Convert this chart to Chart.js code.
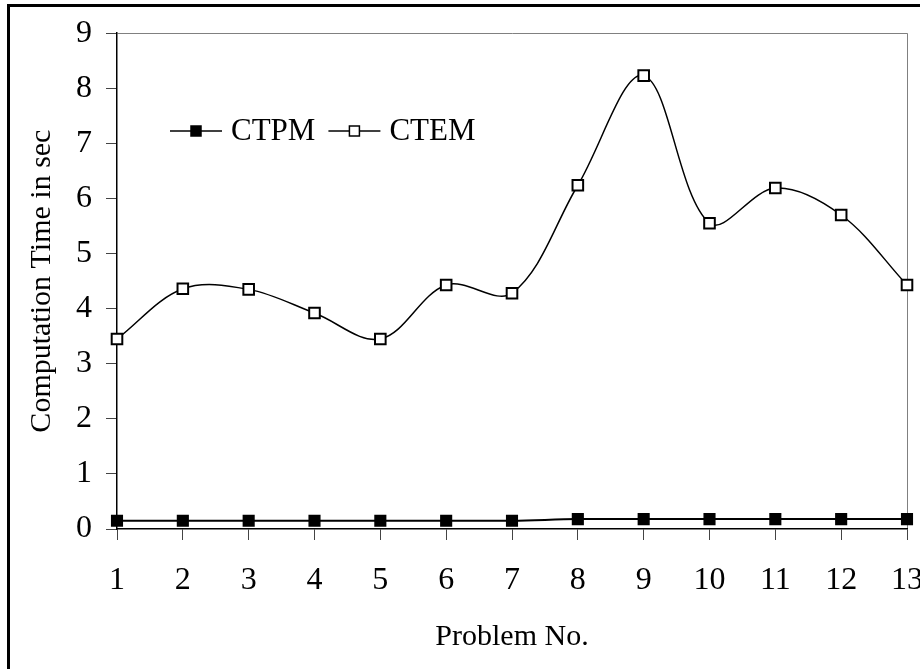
<!DOCTYPE html>
<html>
<head>
<meta charset="utf-8">
<script src="https://cdn.jsdelivr.net/npm/chart.js@4"></script>
<style>
  body { margin: 0; background: #fff; overflow: hidden; }
  #wrap { position: relative; width: 920px; height: 669px; }
  #frame { position: absolute; left: 7px; top: 4px; width: 1000px; height: 1000px;
           border-left: 3px solid #000; border-top: 3px solid #000; pointer-events: none; }
  canvas { position: absolute; left: 0; top: 0; }
</style>
</head>
<body>
<div id="wrap">
  <canvas id="chart" width="920" height="669"></canvas>
  <div id="frame"></div>
</div>
<script>
// data
const problems = ['1','2','3','4','5','6','7','8','9','10','11','12','13'];
const ctpm = [0.15,0.15,0.15,0.15,0.15,0.15,0.15,0.18,0.18,0.18,0.18,0.18,0.18];
const ctem = [3.45,4.36,4.35,3.92,3.45,4.43,4.28,6.24,8.23,5.55,6.19,5.70,4.43];
const yMin = 0, yMax = 9, yStep = 1;

const serif = 'Liberation Serif';
const fs = 32;

// legend drawn inside the plot, line + marker + label like the original
const innerLegend = {
  id: 'innerLegend',
  afterDraw(chart) {
    const ctx = chart.ctx;
    let x = 170;
    const y = 131;
    ctx.save();
    ctx.font = '31px "' + serif + '"';
    ctx.textBaseline = 'middle';
    chart.data.datasets.forEach(ds => {
      ctx.strokeStyle = '#000';
      ctx.lineWidth = 1.5;
      ctx.beginPath();
      ctx.moveTo(x, y);
      ctx.lineTo(x + 52, y);
      ctx.stroke();
      ctx.fillStyle = ds.pointBackgroundColor;
      ctx.fillRect(x + 21, y - 5, 10, 10);
      ctx.strokeRect(x + 21, y - 5, 10, 10);
      ctx.fillStyle = '#000';
      ctx.fillText(ds.label, x + 61, y + 1);
      x += 61 + ctx.measureText(ds.label).width + 13;
    });
    ctx.restore();
  }
};

new Chart(document.getElementById('chart'), {
  type: 'line',
  data: {
    labels: problems,
    datasets: [{
      label: 'CTPM',
      data: ctpm,
      borderColor: '#000',
      borderWidth: 2,
      pointStyle: 'rect',
      pointRadius: 7.5,
      pointBorderWidth: 1.5,
      pointBorderColor: '#000',
      pointBackgroundColor: '#000',
      tension: 0.35
    }, {
      label: 'CTEM',
      data: ctem,
      borderColor: '#000',
      borderWidth: 1.5,
      pointStyle: 'rect',
      pointRadius: 7.5,
      pointBorderWidth: 2,
      pointBorderColor: '#000',
      pointBackgroundColor: '#fff',
      tension: 0.35
    }]
  },
  options: {
    responsive: false,
    devicePixelRatio: 1,
    animation: false,
    layout: { padding: { left: 0, top: 33, right: 13, bottom: 0 } },
    plugins: {
      legend: { display: false },
      tooltip: { enabled: false }
    },
    scales: {
      x: {
        offset: false,
        grid: {
          color: c => c.index === problems.length - 1 ? '#808080' : 'rgba(0,0,0,0)',
          tickColor: '#444',
          tickLength: 11,
          lineWidth: 1
        },
        border: { color: '#000', width: 1.5 },
        ticks: { color: '#000', padding: 21, font: { family: serif, size: fs } },
        title: {
          display: true,
          text: 'Problem No.',
          color: '#000',
          font: { family: serif, size: 30 },
          padding: { top: 0, bottom: 13.5 }
        },
        afterFit(s) { s.height = 140; s.paddingLeft = 0; s.paddingRight = 0; }
      },
      y: {
        min: yMin,
        max: yMax,
        grid: {
          color: c => c.tick.value === yMax ? '#808080' : 'rgba(0,0,0,0)',
          tickColor: '#444',
          tickLength: 11,
          lineWidth: 1
        },
        border: { color: '#000', width: 1.5 },
        ticks: { stepSize: yStep, color: '#000', padding: 14, font: { family: serif, size: fs } },
        title: {
          display: true,
          text: 'Computation Time in sec',
          color: '#000',
          font: { family: serif, size: 30 },
          padding: { top: 24, bottom: 0 }
        },
        afterFit(s) { s.width = 117; }
      }
    }
  },
  plugins: [innerLegend]
});
</script>
</body>
</html>
